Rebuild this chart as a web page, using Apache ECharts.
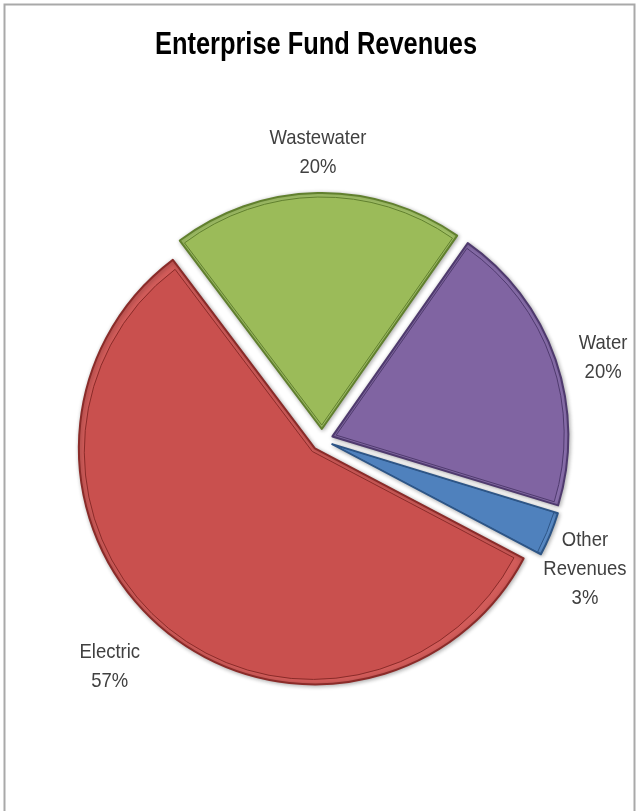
<!DOCTYPE html>
<html>
<head>
<meta charset="utf-8">
<title>Enterprise Fund Revenues</title>
<script src="https://cdn.jsdelivr.net/npm/echarts@6/dist/echarts.min.js"></script>
<style>
  html, body { margin: 0; padding: 0; background: #ffffff; }
  #chart { width: 636px; height: 811px; }
</style>
</head>
<body>
<div id="chart"></div>
<script>
// Revenue sources, listed clockwise from the Wastewater slice
const categories = ['Wastewater', 'Water', 'Other Revenues', 'Electric'];
const labelNames = ['Wastewater', 'Water', 'Other\nRevenues', 'Electric'];
const sharePercent = [20, 20, 3, 57];
const chartTitle = 'Enterprise Fund Revenues';

// Slice colours: bevel band, face, and darker rim
const bandColors = ['#A6C66A', '#8A6FAD', '#5A8CC8', '#D25C5A'];
const faceColors = ['#9BBB59', '#8064A2', '#4F81BD', '#C9504E'];
const rimColors = ['#61802E', '#4F3A6E', '#2D5586', '#8A2B29'];

// Pie geometry
const CX = 322, CY = 440, R = 236, START = 127, EXPLODE = 11, BEVEL = 4;
// Label placement: distance from the centre plus a small nudge per label
const LABEL_R = 292;
const labelNudge = [[1, 5], [5, 13], [-7, 18], [-23, 4]];

const total = sharePercent.reduce((a, b) => a + b, 0);
const midAngles = [];
let acc = 0;
sharePercent.forEach(v => {
  midAngles.push(START - (acc + v / 2) / total * 360);
  acc += v;
});

const narrowFont = '"Liberation Sans", Arial, sans-serif';

// Slice labels, centred on a point out along each slice's middle angle
const labelGraphics = categories.map((name, i) => {
  const a = midAngles[i] * Math.PI / 180;
  return {
    type: 'text',
    x: CX + LABEL_R * Math.cos(a) + labelNudge[i][0],
    y: CY - LABEL_R * Math.sin(a) + labelNudge[i][1],
    scaleX: 0.88,
    silent: true,
    style: {
      text: labelNames[i] + '\n' + sharePercent[i] + '%',
      x: 0,
      y: 0,
      align: 'center',
      verticalAlign: 'middle',
      fontFamily: narrowFont,
      fontSize: 21,
      lineHeight: 29,
      fill: '#404040'
    }
  };
});

const chart = echarts.init(document.getElementById('chart'), null, { renderer: 'canvas' });

function pieLayer(radius, offset, styleFor, z) {
  return {
    type: 'pie',
    center: [CX, CY],
    radius: radius,
    startAngle: START,
    clockwise: true,
    selectedMode: 'multiple',
    selectedOffset: offset,
    silent: true,
    z: z,
    emphasis: { disabled: true },
    label: { show: false },
    labelLine: { show: false },
    data: categories.map((name, i) => ({
      name: name,
      value: sharePercent[i],
      selected: true,
      itemStyle: styleFor(i)
    }))
  };
}

chart.setOption({
  backgroundColor: '#ffffff',
  animation: false,
  graphic: [
    {
      type: 'rect',
      shape: { x: 4.5, y: 4.5, width: 630, height: 830 },
      style: { fill: 'none', stroke: '#a9a9a9', lineWidth: 2 },
      silent: true,
      z: -1
    },
    {
      type: 'text',
      x: 316,
      y: 45,
      scaleX: 0.82,
      silent: true,
      style: {
        text: chartTitle,
        x: 0,
        y: 0,
        align: 'center',
        verticalAlign: 'middle',
        fontFamily: narrowFont,
        fontWeight: 'bold',
        fontSize: 31,
        fill: '#000000'
      }
    }
  ].concat(labelGraphics),
  series: [
    // outer slice with its dark rim and lighter bevel band
    pieLayer(R, EXPLODE, i => ({
      color: bandColors[i],
      borderColor: rimColors[i],
      borderWidth: 2,
      shadowBlur: 4,
      shadowColor: 'rgba(0,0,0,0.3)',
      shadowOffsetX: 1,
      shadowOffsetY: 1
    }), 2),
    // inner face, inset by the bevel width
    pieLayer(R - 2 * BEVEL, EXPLODE + BEVEL, i => ({
      color: faceColors[i],
      borderColor: rimColors[i],
      borderWidth: 1,
      opacity: 1
    }), 3)
  ]
});
</script>
</body>
</html>
